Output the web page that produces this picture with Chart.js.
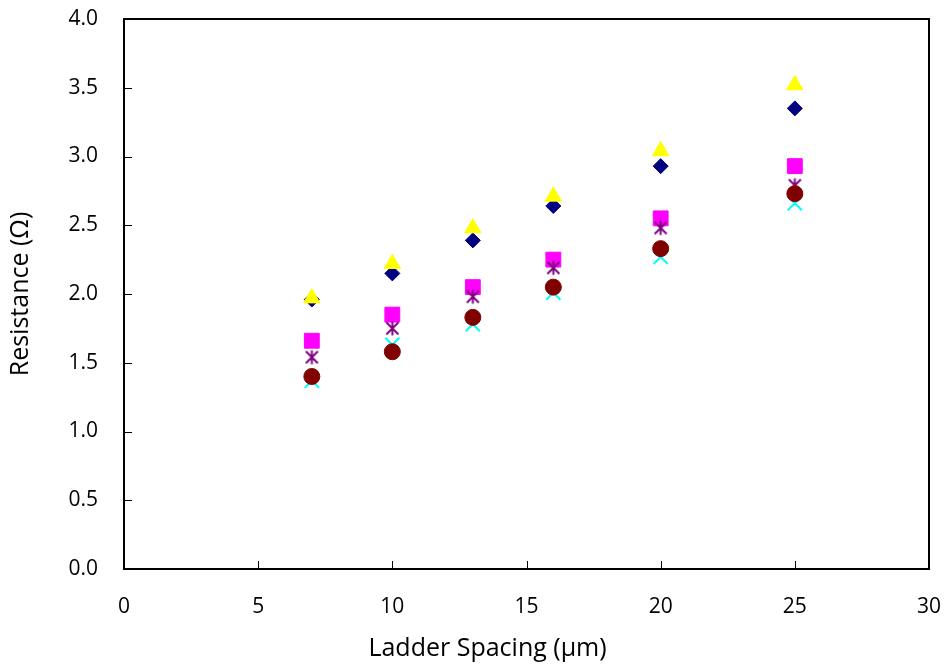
<!DOCTYPE html>
<html>
<head>
<meta charset="utf-8">
<script src="https://cdn.jsdelivr.net/npm/chart.js@4.4.1/dist/chart.umd.min.js"></script>
<style>
  html, body { margin: 0; padding: 0; background: #fff; }
  #wrap { width: 947px; height: 666px; }
</style>
</head>
<body>
<div id="wrap"><canvas id="chart" width="947" height="666"></canvas></div>
<script>
// Ladder spacing (um) and resistance (ohm)
const spacing = [7, 10, 13, 16, 20, 25];
const diamondVals = [1.96, 2.15, 2.39, 2.64, 2.93, 3.35];
const triangleVals = [1.97, 2.22, 2.48, 2.71, 3.04, 3.52];
const squareVals = [1.66, 1.85, 2.05, 2.25, 2.55, 2.93];
const starVals = [1.54, 1.75, 1.98, 2.19, 2.48, 2.79];
const crossVals = [1.37, 1.63, 1.78, 2.01, 2.27, 2.66];
const circleVals = [1.40, 1.58, 1.83, 2.05, 2.33, 2.73];

const xTicks = [0, 5, 10, 15, 20, 25, 30];
const yTicks = [0, 0.5, 1.0, 1.5, 2.0, 2.5, 3.0, 3.5, 4.0];

function pts(vals) {
  return spacing.map((x, i) => ({ x: x, y: vals[i] }));
}

// Excel-style asterisk: vertical bar plus an x
function asterisk(color) {
  const c = document.createElement('canvas');
  c.width = 17; c.height = 17;
  const g = c.getContext('2d');
  g.strokeStyle = color;
  g.lineWidth = 2;
  g.beginPath();
  g.moveTo(8.5, 1.5); g.lineTo(8.5, 15.5);
  g.moveTo(2.5, 2.5); g.lineTo(14.5, 14.5);
  g.moveTo(14.5, 2.5); g.lineTo(2.5, 14.5);
  g.stroke();
  return c;
}

// inward tick marks + frame
const frame = {
  id: 'frame',
  afterDraw(chart) {
    const { ctx, chartArea: a, scales } = chart;
    ctx.save();
    ctx.strokeStyle = '#000';
    ctx.lineWidth = 1;
    ctx.beginPath();
    xTicks.forEach(v => {
      const px = Math.round(scales.x.getPixelForValue(v)) + 0.5;
      ctx.moveTo(px, a.bottom); ctx.lineTo(px, a.bottom - 8);
    });
    yTicks.forEach(v => {
      const py = Math.round(scales.y.getPixelForValue(v)) + 0.5;
      ctx.moveTo(a.left, py); ctx.lineTo(a.left + 8, py);
    });
    ctx.stroke();
    ctx.lineWidth = 2;
    ctx.strokeRect(a.left, a.top, a.right - a.left, a.bottom - a.top);
    ctx.restore();
  }
};

const family = 'Open Sans, Noto Sans, sans-serif';
const tickFont = { family: family, size: 21 };
const titleFont = { family: family, size: 25 };

// title sits left of the plot centre in the original, pad with trailing nbsp
const xTitle = 'Ladder Spacing (µm)' + '\u00A0'.repeat(12);

new Chart(document.getElementById('chart'), {
  type: 'scatter',
  data: {
    datasets: [
      { data: pts(circleVals), pointStyle: 'circle', pointRadius: 8, backgroundColor: '#800000', borderColor: '#800000', borderWidth: 1 },
      { data: pts(crossVals), pointStyle: 'crossRot', pointRadius: 10, borderColor: '#00FFFF', borderWidth: 2 },
      { data: pts(starVals), pointStyle: asterisk('#800080'), borderColor: '#800080' },
      { data: pts(squareVals), pointStyle: 'rect', pointRadius: 10.5, backgroundColor: '#FF00FF', borderColor: '#FF00FF', borderWidth: 1 },
      { data: pts(triangleVals), pointStyle: 'triangle', pointRadius: 9.5, backgroundColor: '#FFFF00', borderColor: '#FFFF00', borderWidth: 1 },
      { data: pts(diamondVals), pointStyle: 'rectRot', pointRadius: 7.5, backgroundColor: '#000080', borderColor: '#000080', borderWidth: 1 }
    ]
  },
  options: {
    responsive: false,
    animation: false,
    events: [],
    layout: { padding: { left: 0, top: 19, right: 18, bottom: 2 } },
    plugins: { legend: { display: false }, tooltip: { enabled: false } },
    scales: {
      x: {
        type: 'linear', min: 0, max: 30,
        afterBuildTicks: s => { s.ticks = xTicks.map(v => ({ value: v })); },
        afterFit: s => { s.height = 95; s.paddingLeft = 0; s.paddingRight = 0; },
        grid: { display: false, drawTicks: false },
        border: { display: false },
        ticks: { font: tickFont, color: '#000', padding: 25, maxRotation: 0 },
        title: { display: true, text: xTitle, font: titleFont, color: '#000', padding: 0 }
      },
      y: {
        type: 'linear', min: 0, max: 4,
        afterBuildTicks: s => { s.ticks = yTicks.map(v => ({ value: v })); },
        afterFit: s => { s.width = 124; s.paddingTop = 0; s.paddingBottom = 0; },
        grid: { display: false, drawTicks: false },
        border: { display: false },
        ticks: { font: tickFont, color: '#000', padding: 26, callback: v => v.toFixed(1) },
        title: { display: true, text: 'Resistance (Ω)', font: titleFont, color: '#000', padding: { top: 6, bottom: 0 } }
      }
    }
  },
  plugins: [frame]
});
</script>
</body>
</html>
